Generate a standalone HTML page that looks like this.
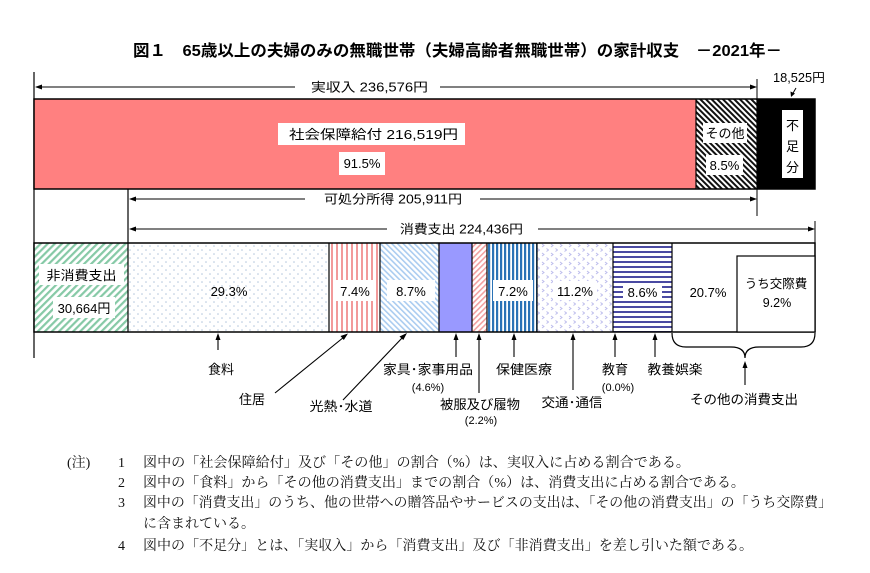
<!DOCTYPE html>
<html><head><meta charset="utf-8">
<style>
html,body{margin:0;padding:0;background:#fff;}
svg{display:block;}
.g{font-family:"Liberation Sans","Noto Sans CJK JP",sans-serif;fill:#000;}
.m{font-family:"Liberation Serif","Noto Serif CJK SC",serif;fill:#111;}
</style></head>
<body>
<svg width="870" height="573" viewBox="0 0 870 573" xmlns="http://www.w3.org/2000/svg">
<defs>
  <pattern id="pBlack" width="4" height="4" patternUnits="userSpaceOnUse" patternTransform="rotate(-45)">
    <rect width="4" height="4" fill="#fff"/><rect width="2" height="4" fill="#111"/>
  </pattern>
  <pattern id="pGreen" width="5" height="5" patternUnits="userSpaceOnUse" patternTransform="rotate(45)">
    <rect width="5" height="5" fill="#fff"/><rect width="2.2" height="5" fill="#86c9a6"/>
  </pattern>
  <pattern id="pDots" width="8" height="8" patternUnits="userSpaceOnUse">
    <rect width="8" height="8" fill="#fff"/>
    <circle cx="2" cy="2" r="0.8" fill="#b4c6dc"/><circle cx="6" cy="6" r="0.8" fill="#b4c6dc"/>
  </pattern>
  <pattern id="pPinkV" width="5" height="5" patternUnits="userSpaceOnUse">
    <rect width="5" height="5" fill="#fff"/><rect x="1" width="2" height="5" fill="#f29a9a"/>
  </pattern>
  <pattern id="pBlueD" width="4" height="4" patternUnits="userSpaceOnUse" patternTransform="rotate(-45)">
    <rect width="4" height="4" fill="#fff"/><rect width="1.6" height="4" fill="#aaccf0"/>
  </pattern>
  <pattern id="pPinkD" width="4" height="4" patternUnits="userSpaceOnUse" patternTransform="rotate(45)">
    <rect width="4" height="4" fill="#fff"/><rect width="1.6" height="4" fill="#f2a0a0"/>
  </pattern>
  <pattern id="pBlueV" width="4" height="4" patternUnits="userSpaceOnUse">
    <rect width="4" height="4" fill="#fff"/><rect width="2.2" height="4" fill="#2a72b6"/>
  </pattern>
  <pattern id="pChev" width="9" height="9" patternUnits="userSpaceOnUse">
    <rect width="9" height="9" fill="#fff"/>
    <path d="M2,1 L4,2.5 L2,4" stroke="#bcbcec" stroke-width="1" fill="none"/>
    <path d="M6.5,5.5 L8.5,7 L6.5,8.5" stroke="#bcbcec" stroke-width="1" fill="none"/>
  </pattern>
  <pattern id="pNavyH" width="5" height="5" patternUnits="userSpaceOnUse">
    <rect width="5" height="5" fill="#fff"/><rect y="1" width="5" height="2" fill="#4a4aa2"/>
  </pattern>
</defs>

<!-- Title -->
<text class="g" x="133" y="56" font-size="16" font-weight="bold" textLength="649" lengthAdjust="spacingAndGlyphs">図１　65歳以上の夫婦のみの無職世帯（夫婦高齢者無職世帯）の家計収支　－2021年－</text>

<!-- left vertical line -->
<line x1="34" y1="72" x2="34" y2="358" stroke="#000" stroke-width="1.2"/>

<!-- 実収入 arrow -->
<line x1="36" y1="87" x2="295" y2="87" stroke="#000" stroke-width="1"/>
<polygon points="35,87 42,84.5 42,89.5" fill="#000"/>
<text class="g" x="311" y="91.5" font-size="12.5" textLength="117" lengthAdjust="spacingAndGlyphs">実収入  236,576円</text>
<line x1="440" y1="87" x2="755" y2="87" stroke="#000" stroke-width="1"/>
<polygon points="757,87 750,84.5 750,89.5" fill="#000"/>
<line x1="757" y1="79" x2="757" y2="99" stroke="#000" stroke-width="1"/>

<!-- 18,525円 -->
<text class="g" x="773" y="82" font-size="12.5" textLength="52" lengthAdjust="spacingAndGlyphs">18,525円</text>
<line x1="796" y1="88" x2="792.5" y2="94" stroke="#000" stroke-width="1"/>
<polygon points="791,97 790.5,91.5 795,93.5" fill="#000"/>

<!-- Top bar -->
<rect x="34" y="99" width="662" height="90" fill="#ff8080"/>
<rect x="696" y="99" width="61" height="90" fill="url(#pBlack)"/>
<rect x="757" y="99" width="58" height="90" fill="#000"/>
<rect x="34" y="99" width="781" height="90" fill="none" stroke="#000" stroke-width="1.5"/>
<line x1="696" y1="99" x2="696" y2="189" stroke="#000" stroke-width="1.2"/>
<line x1="757" y1="99" x2="757" y2="189" stroke="#000" stroke-width="1.2"/>

<rect x="278" y="123" width="187" height="22" fill="#fff"/>
<text class="g" x="289" y="139" font-size="13" textLength="169" lengthAdjust="spacingAndGlyphs">社会保障給付  216,519円</text>
<rect x="339" y="152" width="46" height="23" fill="#fff"/>
<text class="g" x="362" y="168" font-size="13" text-anchor="middle">91.5%</text>

<rect x="703" y="123" width="44" height="20" fill="#fff"/>
<text class="g" x="725" y="138" font-size="13" text-anchor="middle">その他</text>
<rect x="706" y="155" width="37" height="20" fill="#fff"/>
<text class="g" x="724.5" y="170" font-size="13" text-anchor="middle">8.5%</text>

<rect x="782" y="110" width="21" height="68" fill="#fff"/>
<text class="g" x="792.5" y="130" font-size="13" text-anchor="middle">不</text>
<text class="g" x="792.5" y="151" font-size="13" text-anchor="middle">足</text>
<text class="g" x="792.5" y="172" font-size="13" text-anchor="middle">分</text>

<!-- 可処分所得 arrow -->
<line x1="128" y1="189" x2="128" y2="243" stroke="#000" stroke-width="1.2"/>
<line x1="757" y1="189" x2="757" y2="216" stroke="#000" stroke-width="1"/>
<line x1="130" y1="199" x2="305" y2="199" stroke="#000" stroke-width="1"/>
<polygon points="129,199 136,196.5 136,201.5" fill="#000"/>
<text class="g" x="324" y="203.5" font-size="12.5" textLength="138" lengthAdjust="spacingAndGlyphs">可処分所得  205,911円</text>
<line x1="480" y1="199" x2="755" y2="199" stroke="#000" stroke-width="1"/>
<polygon points="757,199 750,196.5 750,201.5" fill="#000"/>

<!-- 消費支出 arrow -->
<line x1="130" y1="229" x2="387" y2="229" stroke="#000" stroke-width="1"/>
<polygon points="129,229 136,226.5 136,231.5" fill="#000"/>
<text class="g" x="400" y="233.5" font-size="12.5" textLength="123" lengthAdjust="spacingAndGlyphs">消費支出  224,436円</text>
<line x1="538" y1="229" x2="813" y2="229" stroke="#000" stroke-width="1"/>
<polygon points="815,229 808,226.5 808,231.5" fill="#000"/>
<line x1="815" y1="221" x2="815" y2="243" stroke="#000" stroke-width="1"/>

<!-- Lower bar -->
<rect x="34" y="243" width="94" height="89" fill="url(#pGreen)"/>
<rect x="128" y="243" width="201" height="89" fill="url(#pDots)"/>
<rect x="329" y="243" width="51" height="89" fill="url(#pPinkV)"/>
<rect x="380" y="243" width="59" height="89" fill="url(#pBlueD)"/>
<rect x="439" y="243" width="33" height="89" fill="#9999ff"/>
<rect x="472" y="243" width="15" height="89" fill="url(#pPinkD)"/>
<rect x="487" y="243" width="50" height="89" fill="url(#pBlueV)"/>
<rect x="537" y="243" width="76" height="89" fill="url(#pChev)"/>
<rect x="613" y="243" width="59" height="89" fill="url(#pNavyH)"/>
<rect x="672" y="243" width="143" height="89" fill="#fff"/>
<rect x="34" y="243" width="781" height="89" fill="none" stroke="#000" stroke-width="1.5"/>
<g stroke="#000" stroke-width="1.2">
  <line x1="128" y1="243" x2="128" y2="332"/>
  <line x1="329" y1="243" x2="329" y2="332"/>
  <line x1="380" y1="243" x2="380" y2="332"/>
  <line x1="439" y1="243" x2="439" y2="332"/>
  <line x1="472" y1="243" x2="472" y2="332"/>
  <line x1="487" y1="243" x2="487" y2="332"/>
  <line x1="537" y1="243" x2="537" y2="332"/>
  <line x1="613" y1="243" x2="613" y2="332"/>
  <line x1="672" y1="243" x2="672" y2="332"/>
</g>
<rect x="737" y="256" width="78" height="76" fill="#fff" stroke="#000" stroke-width="1.2"/>

<!-- lower bar labels -->
<rect x="39" y="264" width="85" height="21" fill="#fff"/>
<text class="g" x="81.5" y="280" font-size="13" text-anchor="middle" textLength="70" lengthAdjust="spacingAndGlyphs">非消費支出</text>
<rect x="53" y="297" width="62" height="21" fill="#fff"/>
<text class="g" x="84" y="313" font-size="13" text-anchor="middle">30,664円</text>

<text class="g" x="229" y="296" font-size="13" text-anchor="middle">29.3%</text>

<rect x="335" y="280" width="40" height="21" fill="#fff"/>
<text class="g" x="355" y="296" font-size="13" text-anchor="middle">7.4%</text>
<rect x="387" y="280" width="48" height="21" fill="#fff"/>
<text class="g" x="411" y="296" font-size="13" text-anchor="middle">8.7%</text>
<rect x="493" y="280" width="40" height="21" fill="#fff"/>
<text class="g" x="513" y="296" font-size="13" text-anchor="middle">7.2%</text>
<rect x="553" y="281" width="44" height="19" fill="#fff"/>
<text class="g" x="575" y="296" font-size="13" text-anchor="middle">11.2%</text>
<rect x="623" y="284" width="39" height="17" fill="#fff"/>
<text class="g" x="642.5" y="297" font-size="13" text-anchor="middle">8.6%</text>
<text class="g" x="708" y="297" font-size="13" text-anchor="middle">20.7%</text>
<text class="g" x="776" y="288" font-size="12.5" text-anchor="middle">うち交際費</text>
<text class="g" x="777" y="307" font-size="12.5" text-anchor="middle">9.2%</text>

<!-- arrows below bar -->
<g stroke="#000" stroke-width="1.1">
  <line x1="218" y1="350" x2="218" y2="339"/>
  <line x1="275" y1="393" x2="344" y2="337"/>
  <line x1="343" y1="400" x2="403" y2="337"/>
  <line x1="456" y1="357" x2="456" y2="339"/>
  <line x1="479" y1="393" x2="479" y2="339"/>
  <line x1="514" y1="357" x2="514" y2="339"/>
  <line x1="573" y1="390" x2="573" y2="339"/>
  <line x1="615" y1="357" x2="615" y2="339"/>
  <line x1="655" y1="357" x2="655" y2="339"/>
  <line x1="745" y1="385" x2="745" y2="367"/>
</g>
<g fill="#000">
  <polygon points="218,333 215.5,340 220.5,340"/>
  <polygon points="348,333.5 340.5,336 343.8,340"/>
  <polygon points="407,333 399.5,336.5 403.3,340"/>
  <polygon points="456,333 453.5,340 458.5,340"/>
  <polygon points="479,333 476.5,340 481.5,340"/>
  <polygon points="514,333 511.5,340 516.5,340"/>
  <polygon points="573,333 570.5,340 575.5,340"/>
  <polygon points="615,333 612.5,340 617.5,340"/>
  <polygon points="655,333 652.5,340 657.5,340"/>
  <polygon points="745,361 742.5,368 747.5,368"/>
</g>
<!-- brace -->
<path d="M672,333 Q672,347 686,347 L731,347 Q745,347 745,358 Q745,347 759,347 L801,347 Q815,347 815,333" fill="none" stroke="#000" stroke-width="1.2"/>

<!-- category labels -->
<text class="g" x="221" y="374" font-size="13" text-anchor="middle">食料</text>
<text class="g" x="252" y="404" font-size="13" text-anchor="middle">住居</text>
<text class="g" x="341" y="411" font-size="13" text-anchor="middle" textLength="63" lengthAdjust="spacingAndGlyphs">光熱･水道</text>
<text class="g" x="428" y="374" font-size="13" text-anchor="middle" textLength="90" lengthAdjust="spacingAndGlyphs">家具･家事用品</text>
<text class="g" x="428" y="391" font-size="11" text-anchor="middle">(4.6%)</text>
<text class="g" x="480" y="409" font-size="13" text-anchor="middle" textLength="80" lengthAdjust="spacingAndGlyphs">被服及び履物</text>
<text class="g" x="481" y="424" font-size="11" text-anchor="middle">(2.2%)</text>
<text class="g" x="524" y="374" font-size="13" text-anchor="middle" textLength="56" lengthAdjust="spacingAndGlyphs">保健医療</text>
<text class="g" x="572" y="407" font-size="13" text-anchor="middle" textLength="61" lengthAdjust="spacingAndGlyphs">交通･通信</text>
<text class="g" x="615" y="374" font-size="13" text-anchor="middle">教育</text>
<text class="g" x="618" y="391" font-size="11" text-anchor="middle">(0.0%)</text>
<text class="g" x="675" y="374" font-size="13" text-anchor="middle" textLength="55" lengthAdjust="spacingAndGlyphs">教養娯楽</text>
<text class="g" x="744" y="404" font-size="13" text-anchor="middle" textLength="108" lengthAdjust="spacingAndGlyphs">その他の消費支出</text>

<!-- Notes -->
<text class="m" x="67" y="467" font-size="14">(注)</text>
<text class="m" x="118" y="467" font-size="14">1</text>
<text class="m" x="143" y="467" font-size="14" textLength="547" lengthAdjust="spacingAndGlyphs">図中の「社会保障給付」及び「その他」の割合（%）は、実収入に占める割合である。</text>
<text class="m" x="118" y="487" font-size="14">2</text>
<text class="m" x="143" y="487" font-size="14" textLength="602" lengthAdjust="spacingAndGlyphs">図中の「食料」から「その他の消費支出」までの割合（%）は、消費支出に占める割合である。</text>
<text class="m" x="118" y="507" font-size="14">3</text>
<text class="m" x="143" y="507" font-size="14" textLength="689" lengthAdjust="spacingAndGlyphs">図中の「消費支出」のうち、他の世帯への贈答品やサービスの支出は、「その他の消費支出」の「うち交際費」</text>
<text class="m" x="143" y="528" font-size="14" textLength="112" lengthAdjust="spacingAndGlyphs">に含まれている。</text>
<text class="m" x="118" y="550" font-size="14">4</text>
<text class="m" x="143" y="550" font-size="14" textLength="610" lengthAdjust="spacingAndGlyphs">図中の「不足分」とは、「実収入」から「消費支出」及び「非消費支出」を差し引いた額である。</text>
</svg>
</body></html>
